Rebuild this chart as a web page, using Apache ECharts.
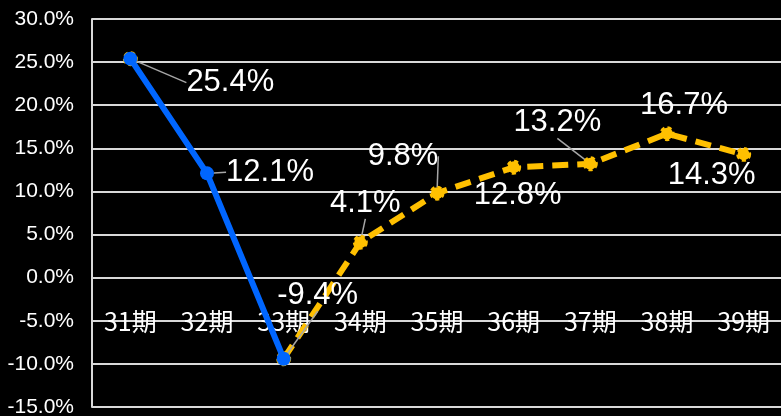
<!DOCTYPE html>
<html><head><meta charset="utf-8">
<script src="https://cdn.jsdelivr.net/npm/echarts@6/dist/echarts.min.js"></script>
<style>html,body{margin:0;padding:0;background:#000;}#c{width:781px;height:416px;}</style>
</head><body><div id="c"></div>
<script>
const categories = ['31期','32期','33期','34期','35期','36期','37期','38期','39期'];
const actual = [25.4, 12.1, -9.4, null, null, null, null, null, null];
const forecast = [25.4, null, -9.4, 4.1, 9.8, 12.8, 13.2, 16.7, 14.3];
const yTicks = { min: -15, max: 30, interval: 5 };

// label displacement (pixels) relative to point, and whether a leader line is drawn
const labelShift = {
  0: { 0: [100, 24, true], 1: [63, -1, true], 2: [34, -63, true] },
  1: { 3: [5, -39, true], 4: [-34, -37, true], 5: [4, 28, false], 6: [-33, -41, true], 7: [17, -28, false], 8: [-32, 21, false] }
};

const labelFont = { color: '#fff', fontSize: 31, fontFamily: 'Liberation Sans' };

function mkData(arr, sIdx) {
  return arr.map((v, i) => {
    const sh = labelShift[sIdx][i];
    return {
      value: v,
      label: { show: !!sh },
      labelLine: { show: !!(sh && sh[2]) }
    };
  });
}

const chart = echarts.init(document.getElementById('c'));
chart.setOption({
  backgroundColor: '#000',
  animation: false,
  grid: { left: 92, right: -1, top: 19, bottom: 9, containLabel: false, outerBoundsMode: 'none' },
  xAxis: {
    type: 'category', data: categories, boundaryGap: true, position: 'bottom',
    axisLine: { show: false, onZero: false },
    axisTick: { show: false },
    axisLabel: { color: '#fff', fontSize: 25, fontFamily: 'Noto Sans CJK JP', margin: -98 }
  },
  yAxis: {
    type: 'value', min: yTicks.min, max: yTicks.max, interval: yTicks.interval,
    axisLine: { show: true, lineStyle: { color: '#d9d9d9', width: 2 } },
    axisTick: { show: false },
    splitLine: { lineStyle: { color: '#d9d9d9', width: 2 } },
    axisLabel: { color: '#fff', fontSize: 21, fontFamily: 'Liberation Sans', margin: 18,
      formatter: v => v.toFixed(1) + '%' }
  },
  series: [
    {
      type: 'line', data: mkData(forecast, 1), z: 2,
      connectNulls: false,
      symbol: 'circle', symbolSize: 12,
      lineStyle: { color: '#FFC000', width: 6, type: [16, 9] },
      itemStyle: { color: '#FFC000', borderColor: '#FFC000', borderWidth: 3, borderType: [4, 3] },
      label: { position: 'inside', formatter: p => p.value.toFixed(1) + '%', ...labelFont },
      labelLine: { lineStyle: { color: '#a6a6a6', width: 1.5 } },
      labelLayout: p => {
        const s = labelShift[1][p.dataIndex];
        return s ? { dx: s[0], dy: s[1] } : {};
      }
    },
    {
      type: 'line', data: mkData(actual, 0), z: 3,
      symbol: 'circle', symbolSize: 14,
      lineStyle: { color: '#0066FF', width: 6 },
      itemStyle: { color: '#0066FF' },
      label: { position: 'inside', formatter: p => p.value.toFixed(1) + '%', ...labelFont },
      labelLine: { lineStyle: { color: '#a6a6a6', width: 1.5 } },
      labelLayout: p => {
        const s = labelShift[0][p.dataIndex];
        return s ? { dx: s[0], dy: s[1] } : {};
      }
    }
  ]
});
</script></body></html>
